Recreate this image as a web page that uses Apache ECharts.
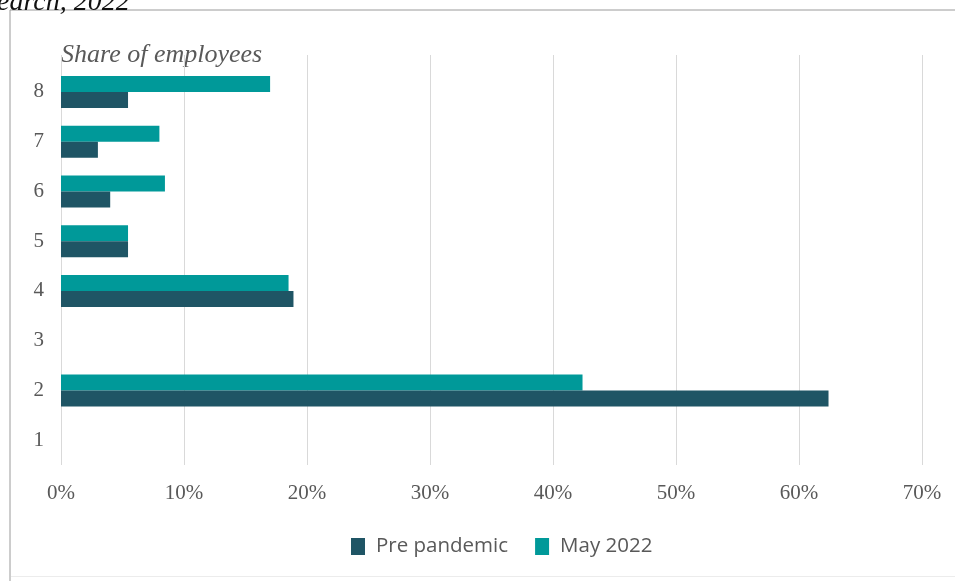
<!DOCTYPE html>
<html>
<head>
<meta charset="utf-8">
<script src="https://cdn.jsdelivr.net/npm/echarts@6/dist/echarts.min.js"></script>
<style>
  html, body { margin: 0; padding: 0; background: #ffffff; }
  #chart { width: 955px; height: 581px; }
</style>
</head>
<body>
<div id="chart"></div>
<script>
// Number of people sharing a workspace, bottom (1) to top (8)
const categories = ['1', '2', '3', '4', '5', '6', '7', '8'];
// Share of employees, percent
const prePandemic = [0, 62.4, 0, 18.9, 5.45, 4.0, 3.0, 5.45];
const may2022 = [0, 42.4, 0, 18.5, 5.45, 8.45, 8.0, 17.0];
const seriesNames = ['Pre pandemic', 'May 2022'];
const xTicks = [0, 10, 20, 30, 40, 50, 60, 70];

const chart = echarts.init(document.getElementById('chart'), null, { renderer: 'canvas' });

const serif = '"Liberation Serif", "DejaVu Serif", serif';
const labelGrey = '#595959';
const preColor = '#1f5565';
const mayColor = '#009999';

chart.setOption({
  animation: false,
  backgroundColor: '#ffffff',
  graphic: [
    { type: 'rect', shape: { x: 10, y: 10, width: 960, height: 600 },
      style: { fill: 'none', stroke: '#9a9a9a', lineWidth: 1 }, silent: true },
    { type: 'rect', shape: { x: 11, y: 576, width: 944, height: 1 },
      style: { fill: '#ececec' }, silent: true },
    { type: 'text', left: -3, top: -11,
      style: { text: 'earch, 2022', font: 'italic 28px ' + serif, fill: '#111111' } },
    { type: 'text', left: 61, top: 42,
      style: { text: 'Share of employees', font: 'italic 26px ' + serif, fill: '#595959' } }
  ],
  legend: {
    data: seriesNames,
    bottom: 19,
    left: 346,
    itemWidth: 14,
    itemHeight: 17,
    itemGap: 27,
    icon: 'rect',
    textStyle: { fontFamily: '"Open Sans", "Noto Sans", sans-serif', fontSize: 20.5, color: labelGrey, padding: [0, 0, 0, 6] }
  },
  grid: [
    { left: 61, right: 33, top: 67, bottom: 116, containLabel: false },
    { left: 61, right: 33, top: 55, bottom: 116, containLabel: false }
  ],
  xAxis: [
    { type: 'value', gridIndex: 0, min: 0, max: 70, interval: 10,
      axisLine: { show: false }, axisTick: { show: false },
      axisLabel: { show: false }, splitLine: { show: false } },
    { type: 'value', gridIndex: 1, min: xTicks[0], max: xTicks[xTicks.length - 1], interval: 10,
      axisLine: { show: false }, axisTick: { show: false },
      axisLabel: { formatter: v => v + '%', fontFamily: serif, fontSize: 21, color: labelGrey, margin: 18 },
      splitLine: { show: true, lineStyle: { color: '#d9d9d9', width: 1 } } }
  ],
  yAxis: [
    { type: 'category', gridIndex: 0, data: categories,
      axisLine: { show: false }, axisTick: { show: false },
      axisLabel: { fontFamily: serif, fontSize: 21, color: labelGrey, margin: 17 } },
    { type: 'value', gridIndex: 1, show: false, min: 0, max: 1 }
  ],
  series: [
    // upper bar of each pair
    { name: seriesNames[1], type: 'bar', data: may2022, barWidth: 16, barGap: '0%',
      itemStyle: { color: mayColor }, xAxisIndex: 0, yAxisIndex: 0, z: 3 },
    // lower bar of each pair
    { name: seriesNames[0], type: 'bar', data: prePandemic, barWidth: 16, barGap: '0%',
      itemStyle: { color: preColor }, xAxisIndex: 0, yAxisIndex: 0, z: 3 }
  ]
});
</script>
</body>
</html>
